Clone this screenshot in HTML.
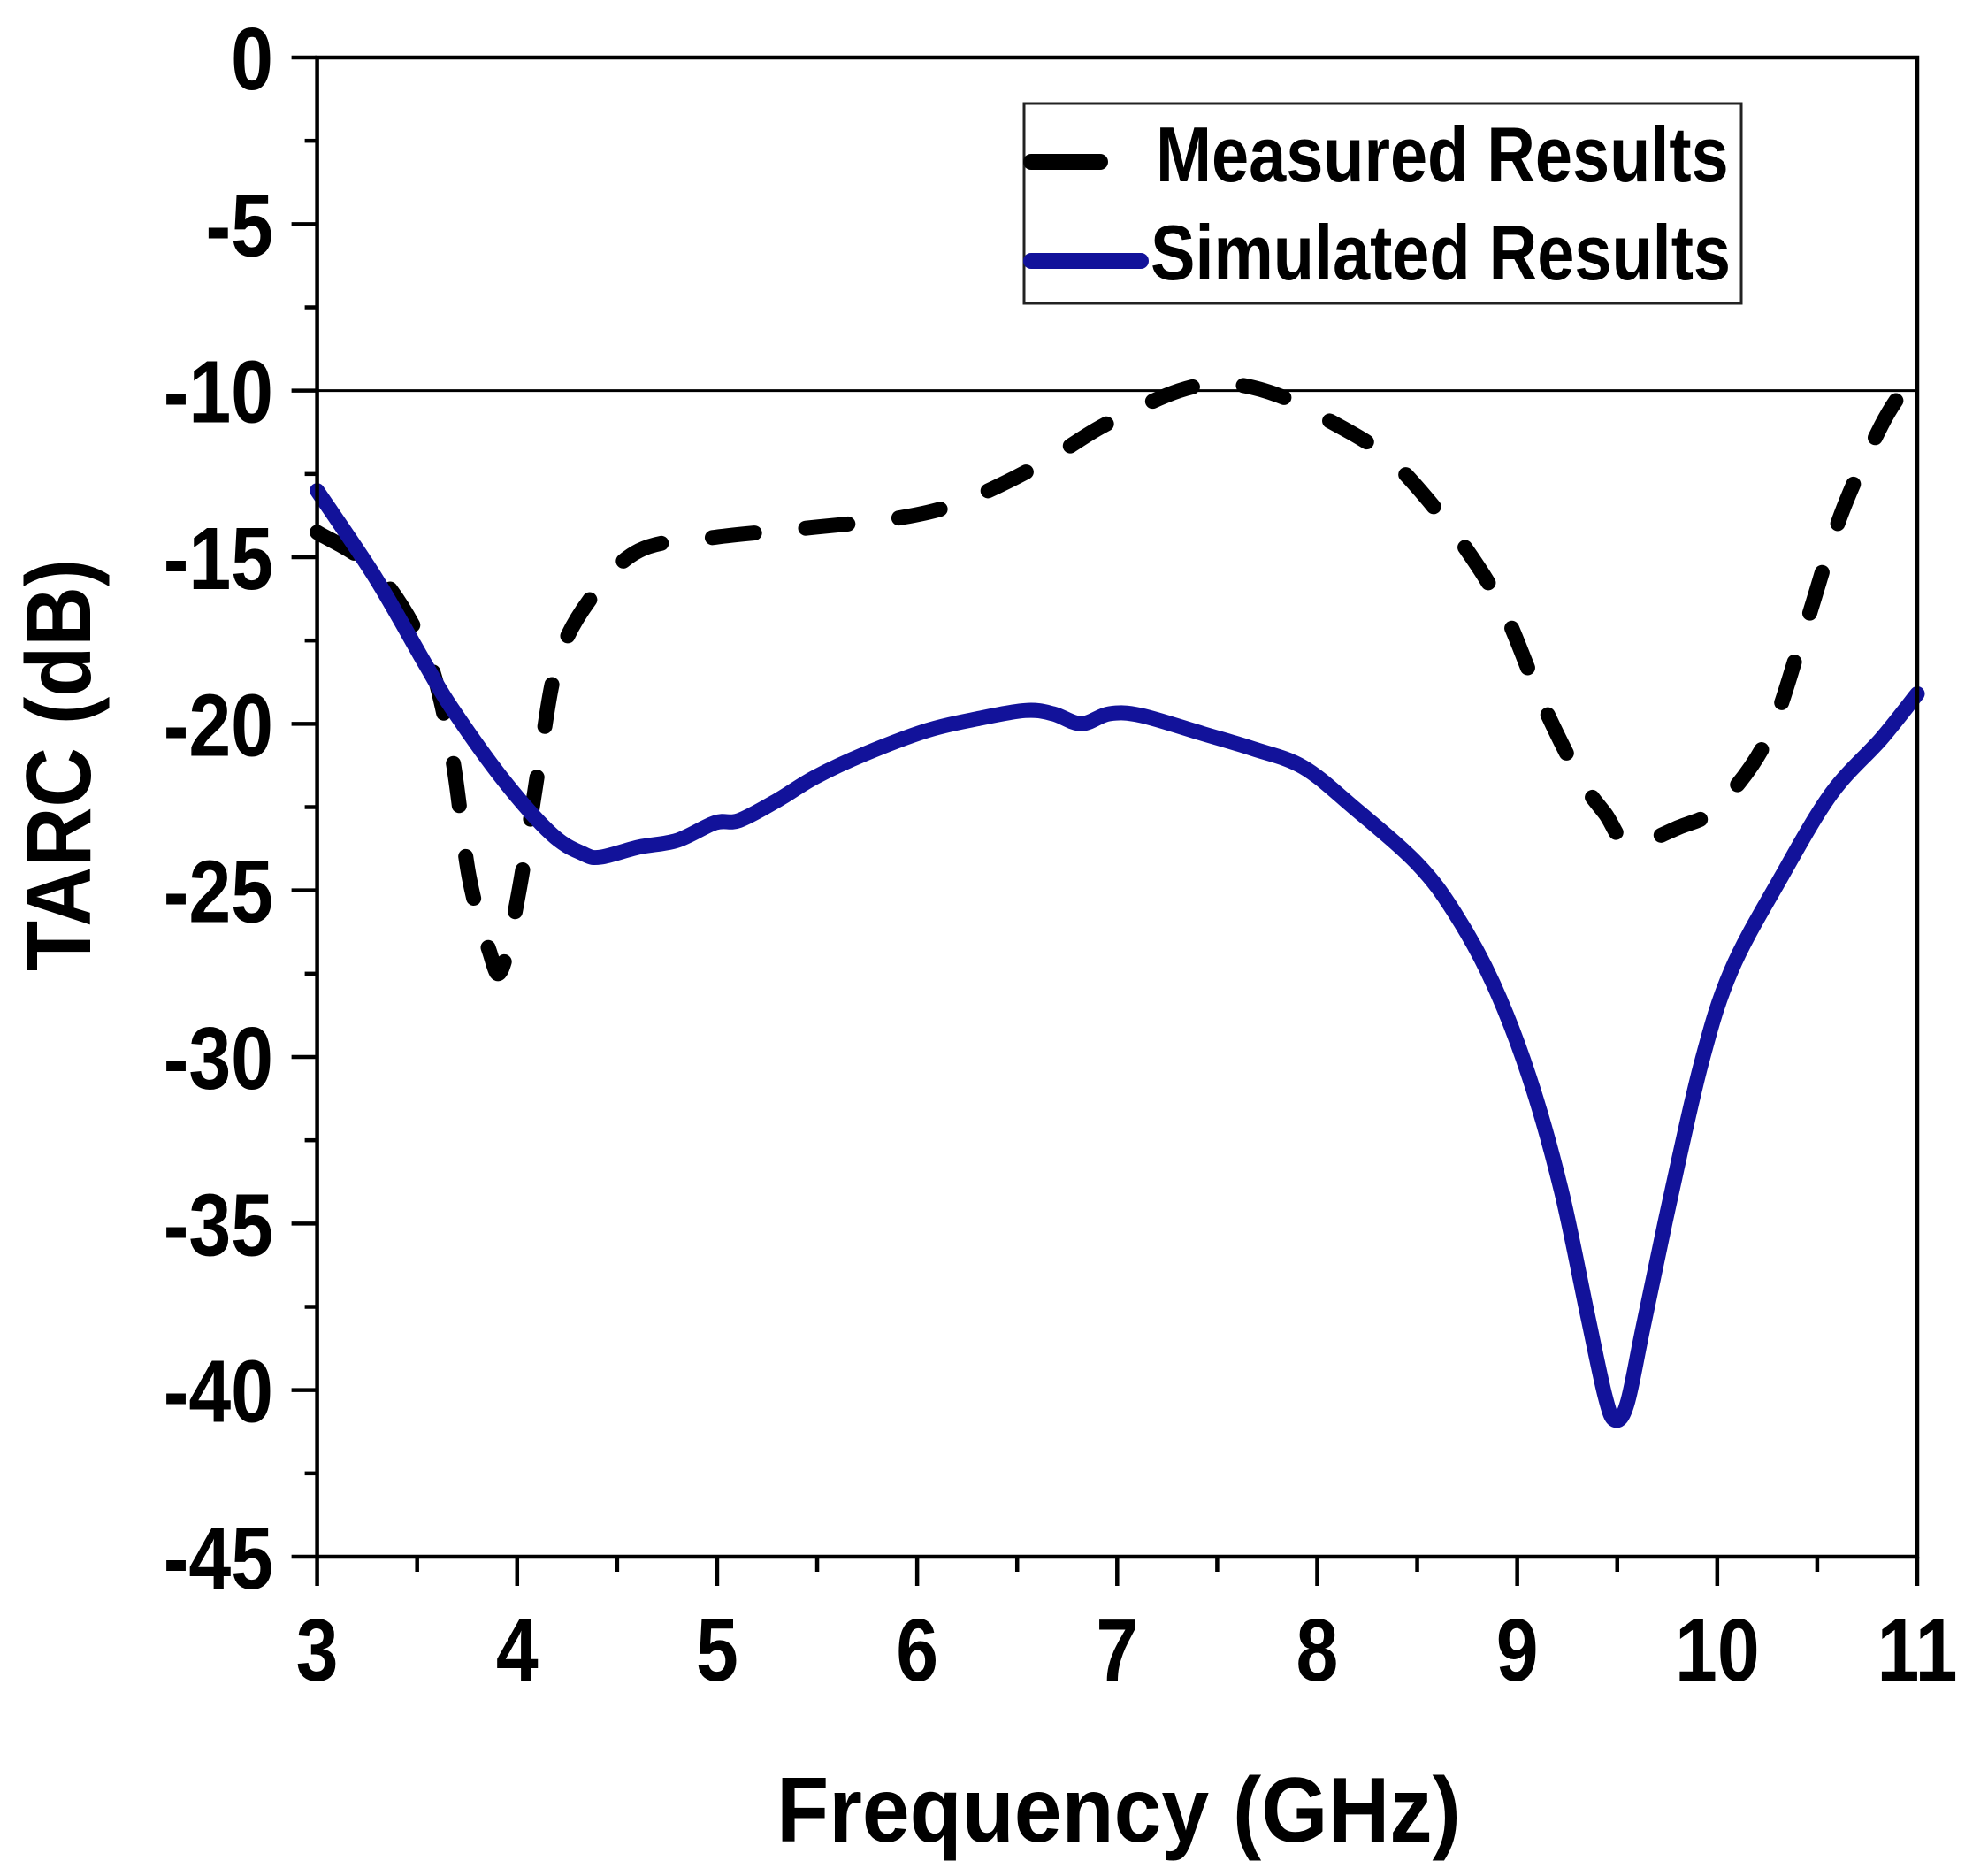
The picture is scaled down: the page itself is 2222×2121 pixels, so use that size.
<!DOCTYPE html>
<html><head><meta charset="utf-8">
<style>
html,body{margin:0;padding:0;background:#fff;}
svg{display:block;font-family:"Liberation Sans",Arial,sans-serif;font-weight:bold;}
</style></head>
<body>
<svg id="chart" width="2222" height="2121" viewBox="0 0 2222 2121" xmlns="http://www.w3.org/2000/svg">
<g id="grid"></g>
<g id="series"></g>
<g id="axes"></g>
<g>
<rect x="1158" y="117" width="811" height="226" fill="#fff" stroke="#222" stroke-width="3"/>
<line x1="1166" y1="183" x2="1244" y2="183" stroke="#000" stroke-width="18" stroke-linecap="round"/>
<text x="1307" y="205" font-size="88" transform="translate(1307 0) scale(0.86 1) translate(-1307 0)">Measured Results</text>
<line x1="1166" y1="295" x2="1290" y2="295" stroke="#12129a" stroke-width="18" stroke-linecap="round"/>
<text x="1301" y="316" font-size="88" transform="translate(1301 0) scale(0.86 1) translate(-1301 0)">Simulated Results</text>
</g>
<text x="1265" y="2082" font-size="104" text-anchor="middle" transform="translate(1265 0) scale(0.93 1) translate(-1265 0)">Frequency (GHz)</text>
<text x="0" y="0" font-size="104" text-anchor="middle" transform="translate(102 865) rotate(-90) scale(0.9 1)">TARC (dB)</text>
</svg>
<script>
const xTicks = [3,4,5,6,7,8,9,10,11];
const yTicks = [0,-5,-10,-15,-20,-25,-30,-35,-40,-45];
const refLevel = -10;
const simFreq = [3,3.29,3.54,3.67,3.92,4.17,4.33,4.42,4.61,4.8,4.99,5.11,5.3,5.49,5.74,6.05,6.3,6.54,6.68,6.82,6.96,7.12,7.43,7.68,7.93,8.18,8.5,8.69,8.88,9.06,9.22,9.35,9.44,9.49,9.55,9.63,9.76,9.92,10.07,10.32,10.57,10.82,11];
const simVals = [-13,-15.6,-18.2,-19.5,-21.6,-23.3,-23.9,-24,-23.7,-23.5,-22.97,-22.9,-22.3,-21.6,-20.9,-20.2,-19.85,-19.6,-19.7,-20,-19.7,-19.75,-20.3,-20.75,-21.3,-22.5,-24.2,-25.7,-27.8,-30.6,-34,-37.7,-40.2,-40.9,-40.4,-38.1,-34.4,-30.2,-27.4,-24.6,-22.1,-20.45,-19.1];
const measFreq = [3,3.29,3.54,3.67,3.76,3.86,3.92,4.01,4.11,4.2,4.36,4.61,4.99,5.49,5.93,6.24,6.62,6.93,7.31,7.56,7.81,8.06,8.31,8.5,8.75,8.94,9.12,9.31,9.44,9.56,9.81,10,10.25,10.44,10.62,10.82,10.94,11];
const measVals = [-14.25,-15.4,-17.8,-20.8,-24.6,-26.8,-27.4,-25,-21.2,-18.2,-16.3,-14.8,-14.4,-14.1,-13.8,-13.3,-12.2,-11.05,-10,-9.8,-10.15,-10.9,-11.8,-12.9,-14.8,-16.7,-19.3,-21.6,-22.7,-23.6,-23.1,-22.5,-20.45,-17.1,-13.7,-11.05,-9.9,-9.4];

const X0=358.6, X1=2168, Y0=65, Y1=1760;
const xs = v => X0 + (v-3)/(11-3)*(X1-X0);
const ys = v => Y0 + (0-v)/45*(Y1-Y0);
const NS='http://www.w3.org/2000/svg';
function mk(tag, attrs, parent){const e=document.createElementNS(NS,tag);for(const k in attrs)e.setAttribute(k,attrs[k]);parent.appendChild(e);return e;}
const axes=document.getElementById('axes'), series=document.getElementById('series'), grid=document.getElementById('grid');

const ref = mk('line',{x1:X0,x2:X1,y1:ys(refLevel),y2:ys(refLevel),stroke:'#000','stroke-width':3},grid);



function path(fx,fy){
  const p = fx.map((f,i)=>[xs(f), ys(fy[i])]);
  let d = 'M'+p[0][0].toFixed(1)+' '+p[0][1].toFixed(1);
  for(let i=0;i<p.length-1;i++){
    const p0=p[Math.max(0,i-1)], p1=p[i], p2=p[i+1], p3=p[Math.min(p.length-1,i+2)];
    const c1=[p1[0]+(p2[0]-p0[0])/6, p1[1]+(p2[1]-p0[1])/6];
    const c2=[p2[0]-(p3[0]-p1[0])/6, p2[1]-(p3[1]-p1[1])/6];
    d += ' C'+c1[0].toFixed(1)+' '+c1[1].toFixed(1)+' '+c2[0].toFixed(1)+' '+c2[1].toFixed(1)+' '+p2[0].toFixed(1)+' '+p2[1].toFixed(1);
  }
  return d;
}
const meas = mk('path',{d:path(measFreq,measVals),fill:'none',stroke:'#000','stroke-width':17,'stroke-dasharray':'48 58','stroke-linecap':'round','stroke-linejoin':'round'},series);


const sim = mk('path',{d:path(simFreq,simVals),fill:'none',stroke:'#12129a','stroke-width':17,'stroke-linejoin':'round','stroke-linecap':'round'},series);



const frame = mk('rect',{x:X0,y:Y0,width:X1-X0,height:Y1-Y0,fill:'none',stroke:'#000','stroke-width':4.5},axes);



for(let v=0; v>=-45; v-=2.5){
  const major = (v%5===0);
  const t = mk('line',{x1:X0,x2:X0-(major?29:14),y1:ys(v),y2:ys(v),stroke:'#000','stroke-width':4.5},axes);
  
  
}
yTicks.forEach(v=>{
  const t = mk('text',{x:0,y:0,'font-size':100,'text-anchor':'end',transform:`translate(309 ${ys(v)+36}) scale(0.86 1)`},axes);
  t.textContent = String(v);
  
  
});
for(let v=3; v<=11; v+=0.5){
  const major = Number.isInteger(v);
  const t = mk('line',{x1:xs(v),x2:xs(v),y1:Y1,y2:Y1+(major?33:17),stroke:'#000','stroke-width':4.5},axes);
  
  
}
xTicks.forEach(v=>{
  const t = mk('text',{x:0,y:0,'font-size':100,'text-anchor':'middle',transform:`translate(${xs(v)} 1900) scale(0.86 1)`},axes);
  t.textContent = String(v);
  
  
});
</script>
</body></html>
